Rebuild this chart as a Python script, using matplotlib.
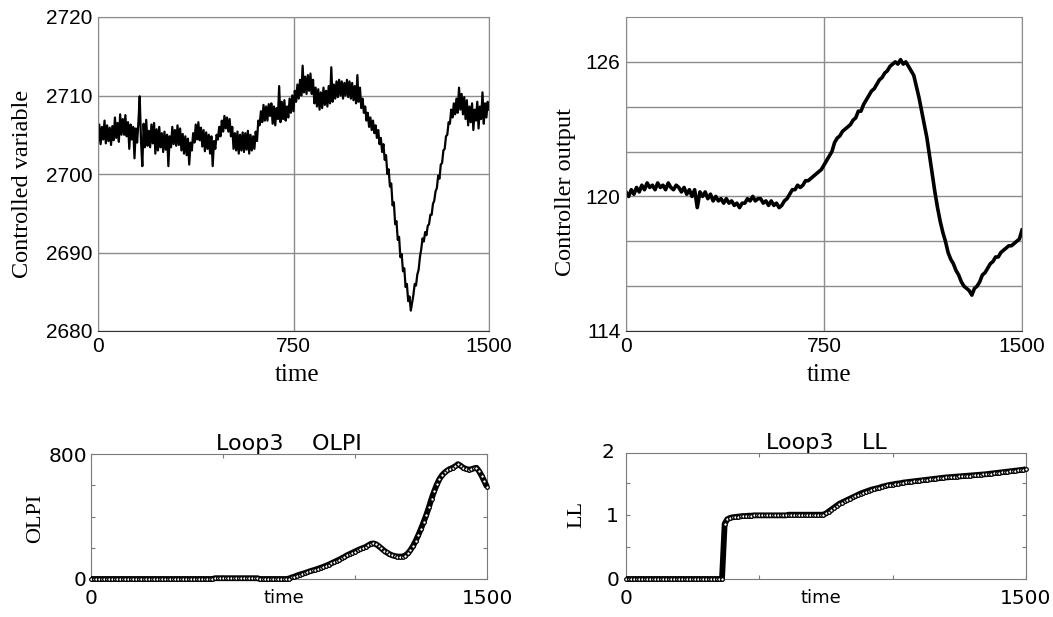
import numpy as np
import matplotlib
matplotlib.use("Agg")
import matplotlib.pyplot as plt

# ---------------- data ----------------
# controlled variable sampled every 5 time units (noisy band)
cv_step = 5
controlled_variable = [
    2704.0, 2706.3, 2703.8, 2706.0, 2704.4, 2706.8, 2703.9, 2706.2, 2704.2, 2705.9,
    2703.7, 2706.1, 2704.3, 2707.2, 2704.6, 2706.5, 2704.1, 2707.6, 2705.0, 2707.0,
    2705.0, 2707.5, 2704.8, 2706.6, 2703.2, 2706.3, 2704.4, 2706.0, 2702.0, 2705.8,
    2704.0, 2706.6, 2709.9, 2704.2, 2701.0, 2706.4, 2703.4, 2706.9, 2703.6, 2705.5,
    2703.4, 2706.3, 2703.9, 2706.5, 2702.6, 2705.7, 2703.0, 2706.0, 2703.4, 2705.2,
    2702.8, 2705.4, 2703.1, 2705.0, 2701.0, 2704.8, 2703.4, 2706.0, 2703.8, 2705.6,
    2703.6, 2706.2, 2703.7, 2705.8, 2703.0, 2705.1, 2702.6, 2704.8, 2702.4, 2704.5,
    2701.2, 2704.0, 2703.0, 2705.2, 2704.0, 2706.3, 2704.4, 2706.6, 2704.3, 2705.9,
    2703.5, 2705.6, 2702.9, 2705.3, 2703.2, 2705.0, 2702.6, 2704.8, 2701.0, 2704.2,
    2703.2, 2705.0, 2704.4, 2706.0, 2704.8, 2706.8, 2705.4, 2707.4, 2705.8, 2707.2,
    2705.4, 2707.0, 2704.8, 2706.0, 2703.2, 2705.2, 2703.0, 2705.4, 2702.6, 2705.0,
    2703.0, 2705.3, 2702.8, 2705.2, 2703.1, 2705.5, 2702.6, 2705.0, 2703.0, 2704.8,
    2703.2, 2705.4, 2704.2, 2706.8, 2706.2, 2708.0, 2706.6, 2708.8, 2706.8, 2708.6,
    2706.8, 2708.9, 2707.4, 2709.0, 2706.4, 2708.6, 2706.2, 2708.4, 2707.0, 2711.2,
    2706.6, 2709.2, 2707.0, 2709.4, 2706.8, 2708.6, 2707.2, 2709.6, 2707.8, 2710.0,
    2708.0, 2710.6, 2709.2, 2711.4, 2709.6, 2712.0, 2710.0, 2713.8, 2710.4, 2712.4,
    2710.2, 2712.6, 2710.6, 2712.8, 2710.2, 2712.0, 2709.0, 2711.0, 2708.6, 2710.8,
    2708.2, 2710.4, 2708.4, 2711.0, 2708.8, 2710.6, 2708.6, 2711.2, 2709.0, 2713.6,
    2709.2, 2711.4, 2709.6, 2711.8, 2709.8, 2712.0, 2710.0, 2711.8, 2709.6, 2711.6,
    2710.0, 2712.0, 2709.8, 2711.8, 2709.6, 2711.6, 2709.4, 2711.2, 2709.0, 2712.6,
    2709.2, 2711.0, 2708.4, 2709.6, 2707.8, 2708.6, 2706.8, 2707.8, 2706.0, 2707.2,
    2705.6, 2706.8, 2705.2, 2706.2, 2704.6, 2705.6, 2703.8, 2704.6, 2702.8, 2703.8,
    2701.8, 2702.4, 2700.0, 2700.6, 2698.4, 2698.8, 2696.0, 2696.4, 2693.6, 2694.0,
    2691.6, 2692.0, 2689.4, 2689.8, 2687.6, 2688.0, 2685.6, 2686.0, 2683.8, 2684.4,
    2682.6, 2683.6, 2684.6, 2686.0, 2685.8, 2687.2, 2687.8, 2689.4, 2690.4, 2691.8,
    2691.4, 2692.6, 2692.2, 2693.4, 2693.6, 2694.8, 2694.8, 2696.2, 2696.6, 2697.8,
    2698.2, 2699.8, 2699.4, 2701.2, 2701.4, 2703.0, 2703.2, 2704.8, 2705.0, 2706.6,
    2706.4, 2708.2, 2707.2, 2709.0, 2707.6, 2709.6, 2707.8, 2711.0, 2708.2, 2710.2,
    2707.6, 2709.8, 2707.0, 2709.4, 2706.2, 2708.6, 2706.6, 2709.0, 2705.6, 2708.2,
    2706.8, 2709.2, 2705.8, 2708.6, 2707.0, 2710.4, 2706.4, 2709.0, 2707.2, 2709.2,
    2708.2,
]

# controller output sampled every 10 time units
co_step = 10
controller_output = [
    120.2, 120.0, 120.3, 120.1, 120.4, 120.2, 120.5, 120.3, 120.6, 120.4,
    120.5, 120.3, 120.6, 120.4, 120.5, 120.3, 120.6, 120.4, 120.3, 120.5,
    120.4, 120.2, 120.4, 120.1, 120.3, 120.0, 120.3, 119.5, 120.2, 120.0,
    120.2, 119.9, 120.1, 119.8, 120.0, 119.8, 119.9, 119.7, 119.9, 119.7,
    119.8, 119.6, 119.7, 119.5, 119.7, 119.7, 119.9, 119.8, 120.0, 119.8,
    119.9, 119.9, 119.7, 119.8, 119.6, 119.8, 119.6, 119.7, 119.5, 119.6,
    119.8, 119.9, 120.1, 120.3, 120.3, 120.5, 120.4, 120.5, 120.7, 120.7,
    120.8, 120.9, 121.0, 121.1, 121.2, 121.4, 121.6, 121.8, 122.0, 122.4,
    122.6, 122.7, 122.9, 123.0, 123.1, 123.2, 123.4, 123.5, 123.8, 123.8,
    124.1, 124.3, 124.5, 124.7, 124.8, 125.0, 125.2, 125.3, 125.5, 125.6,
    125.8, 125.9, 126.0, 125.9, 126.1, 125.9, 126.0, 125.8, 125.6, 125.4,
    124.9, 124.4, 123.8, 123.2, 122.6, 121.8, 121.0, 120.2, 119.5, 118.9,
    118.4, 118.0, 117.5, 117.2, 117.0, 116.7, 116.5, 116.2, 116.0, 115.9,
    115.8, 115.6, 115.9, 116.0, 116.2, 116.5, 116.6, 116.8, 117.0, 117.1,
    117.3, 117.3, 117.5, 117.6, 117.7, 117.8, 117.8, 117.9, 118.0, 118.1,
    118.5,
]

# performance indices sampled every 10 time units
idx_step = 10
olpi = (
    [0.0] * 47 +                       # t = 0 .. 460
    [5.0] * 17 +                       # t = 470 .. 630 (small bump)
    [0.0] * 11 +                       # t = 640 .. 740
    [3, 10, 15, 22, 28, 33, 38, 44, 50, 55,
     60, 66, 72, 78, 85, 92, 100, 108, 116, 124,
     133, 142, 152, 160, 168, 176, 184, 192, 198, 205,
     215, 225, 228, 222, 210, 196, 182, 170, 160, 152,
     147, 144, 143, 144, 150, 164, 185, 212, 245, 282,
     322, 365, 410, 460, 515, 562, 605, 640, 665, 682,
     695, 705, 712, 722, 735, 725, 712, 705, 700, 702,
     708, 712, 690, 660, 625, 590]     # t = 750 .. 1500
)

ll = (
    [0.0] * 37 +                                          # t = 0 .. 360
    [0.86, 0.93, 0.95, 0.96, 0.965, 0.97] +               # t = 370 .. 420
    [0.975, 0.98, 0.98, 0.985, 0.985, 0.99] +            # t = 430 .. 480
    [0.99] * 12 +                                         # t = 490 .. 600
    [1.0] * 14 +                                          # t = 610 .. 740
    [1.02, 1.05, 1.08, 1.11, 1.14, 1.17, 1.19, 1.21, 1.23, 1.25,
     1.27, 1.29, 1.31, 1.33, 1.345, 1.36, 1.375, 1.39, 1.40, 1.41,
     1.42, 1.435, 1.445, 1.455, 1.465, 1.47, 1.48, 1.485, 1.49, 1.50,
     1.505, 1.51, 1.515, 1.52, 1.525, 1.53, 1.535, 1.54, 1.545, 1.55,
     1.555, 1.56, 1.565, 1.57, 1.575, 1.58, 1.583, 1.586, 1.59, 1.593,
     1.596, 1.60, 1.603, 1.606, 1.61, 1.613, 1.616, 1.62, 1.623, 1.626,
     1.63, 1.635, 1.64, 1.645, 1.65, 1.655, 1.66, 1.665, 1.67, 1.675,
     1.68, 1.685, 1.69, 1.695, 1.70, 1.71]                # t = 750 .. 1500
)

t_cv = np.arange(len(controlled_variable)) * cv_step
t_co = np.arange(len(controller_output)) * co_step
t_olpi = np.arange(len(olpi)) * idx_step
t_ll = np.arange(len(ll)) * idx_step

# ---------------- figure ----------------
W, H = 1053, 617
fig = plt.figure(figsize=(W / 100, H / 100), dpi=100)

def px_axes(left, top, right, bottom):
    return fig.add_axes([left / W, 1 - bottom / H, (right - left) / W, (bottom - top) / H])

SANS = "Liberation Sans"
SERIF = "Liberation Serif"
WIDE = "DejaVu Sans"
GRID = "#8c8c8c"

# ---- top-left: controlled variable ----
ax1 = px_axes(98, 17, 489, 331)
ax1.plot(t_cv, controlled_variable, color="black", lw=1.6)
ax1.set_xlim(0, 1500)
ax1.set_ylim(2680, 2720)
ax1.set_xticks([0, 750, 1500])
ax1.set_yticks([2680, 2690, 2700, 2710, 2720])
ax1.grid(True, color=GRID, lw=1)
ax1.tick_params(length=0, labelsize=15, pad=4)
for lab in ax1.get_xticklabels() + ax1.get_yticklabels():
    lab.set_fontfamily(SANS)
for s in ax1.spines.values():
    s.set_color(GRID)
ax1.spines["bottom"].set_color("#333333")
ax1.set_ylabel("Controlled variable", fontfamily=SERIF, fontsize=17.5)
ax1.yaxis.set_label_coords(-0.194, 0.468)
ax1.yaxis.label.set_va("center")
ax1.set_xlabel("time", fontfamily=SERIF, fontsize=18)
ax1.xaxis.set_label_coords(0.51, -0.14)
ax1.xaxis.label.set_va("center")

# ---- top-right: controller output ----
ax2 = px_axes(626, 17, 1022, 331)
ax2.plot(t_co, controller_output, color="black", lw=2.6)
ax2.set_xlim(0, 1500)
ax2.set_ylim(114, 128)
ax2.set_xticks([0, 750, 1500])
ax2.set_yticks([114, 116, 118, 120, 122, 124, 126])
ax2.set_yticklabels(["114", "", "", "120", "", "", "126"])
ax2.grid(True, color=GRID, lw=1)
ax2.tick_params(length=0, labelsize=15, pad=4)
for lab in ax2.get_xticklabels() + ax2.get_yticklabels():
    lab.set_fontfamily(SANS)
for s in ax2.spines.values():
    s.set_color(GRID)
ax2.spines["bottom"].set_color("#333333")
ax2.set_ylabel("Controller output", fontfamily=SERIF, fontsize=17.5)
ax2.yaxis.set_label_coords(-0.154, 0.443)
ax2.yaxis.label.set_va("center")
ax2.set_xlabel("time", fontfamily=SERIF, fontsize=18)
ax2.xaxis.set_label_coords(0.513, -0.14)
ax2.xaxis.label.set_va("center")

# ---- bottom panels (MATLAB-like) ----
def matlab_style(ax):
    for s in ax.spines.values():
        s.set_color("#7a7a7a")
    ax.tick_params(direction="in", length=3, color="#7a7a7a", top=True, right=True,
                   labelsize=14.5, pad=7)
    for lab in ax.get_xticklabels() + ax.get_yticklabels():
        lab.set_fontfamily(WIDE)

def index_plot(ax, t, y):
    ax.plot(t, y, color="black", lw=4.2, solid_capstyle="butt", clip_on=False, zorder=3)
    ax.plot(t, y, ls="none", marker="o", ms=2.6, mfc="white", mec="black", mew=0.9,
            clip_on=False, zorder=4)

ax3 = px_axes(91, 454, 487, 579)
index_plot(ax3, t_olpi, olpi)
ax3.set_xlim(0, 1500)
ax3.set_ylim(0, 800)
ax3.set_xticks([0, 500, 1000, 1500])
ax3.set_xticklabels(["0", "", "", "1500"])
ax3.set_yticks([0, 200, 400, 600, 800])
ax3.set_yticklabels(["0", "", "", "", "800"])
matlab_style(ax3)
ax3.tick_params(axis="y", pad=3)
ax3.set_title("Loop3    OLPI", fontfamily=WIDE, fontsize=16, pad=3)
ax3.set_ylabel("OLPI", fontfamily=SERIF, fontsize=16)
ax3.yaxis.set_label_coords(-0.141, 0.488)
ax3.yaxis.label.set_va("center")
ax3.set_xlabel("time", fontfamily=WIDE, fontsize=13)
ax3.xaxis.set_label_coords(0.487, -0.152)
ax3.xaxis.label.set_va("center")

ax4 = px_axes(626, 453, 1026, 579)
index_plot(ax4, t_ll, ll)
ax4.set_xlim(0, 1500)
ax4.set_ylim(0, 1.96)
ax4.set_xticks([0, 500, 1000, 1500])
ax4.set_xticklabels(["0", "", "", "1500"])
ax4.set_yticks([0, 0.5, 1, 1.5])
ax4.set_yticklabels(["0", "", "1", ""])
matlab_style(ax4)
ax4.tick_params(axis="y", pad=5)
ax4.text(-0.03, 1.0, "2", transform=ax4.transAxes, ha="right", va="center",
         fontfamily=WIDE, fontsize=14.5)
ax4.set_title("Loop3    LL", fontfamily=WIDE, fontsize=16, pad=3)
ax4.set_ylabel("LL", fontfamily=SERIF, fontsize=16)
ax4.yaxis.set_label_coords(-0.1225, 0.508)
ax4.yaxis.label.set_va("center")
ax4.set_xlabel("time", fontfamily=WIDE, fontsize=13)
ax4.xaxis.set_label_coords(0.4875, -0.15)
ax4.xaxis.label.set_va("center")

fig.savefig("out.png", dpi=100)
